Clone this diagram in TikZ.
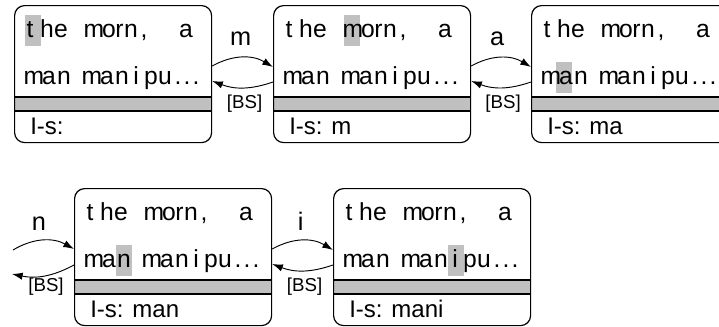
\documentclass[tikz,border=0pt]{standalone}
\usepackage{fontspec}
\setmainfont{Liberation Sans}
\usetikzlibrary{arrows.meta,calc}
\definecolor{hlgray}{RGB}{192,192,192}
\begin{document}
\begin{tikzpicture}[x=0.75pt,y=-0.75pt,
    stbox/.style={draw,line width=0.9pt,rounded corners=7.5pt,minimum width=147.75pt,
      minimum height=102.75pt,inner sep=0pt,anchor=north west},
    chr/.style={inner sep=0pt,anchor=base,font=\fontsize{18.5}{21}\selectfont},
    isl/.style={inner sep=0pt,anchor=base west,font=\fontsize{18}{21}\selectfont},
    lbl/.style={inner sep=0pt,font=\fontsize{19}{21}\selectfont},
    bs/.style={inner sep=0pt,font=\fontsize{14}{16}\selectfont},
    arr/.style={line width=0.7pt,-{Latex[length=8pt,width=5.5pt]}}]
  \clip (0,0) rectangle (719,326);
  % one box per search state: highlight, two text lines, band, I-s line
  \foreach \b/\x/\y/\ls/\hx/\hy in {b1/14/5/{}/19/10,b2/273/5/m/79/10,b3/531/5/ma/33/57,
      b4/74/188/man/50/57,b5/333/188/mani/123/57}{
    \fill[hlgray] (\x+\hx-8,\y+\hy) rectangle (\x+\hx+8,\y+\hy+31);
    \foreach \c/\cx [count=\i] in {t/16,h/33,e/47,m/80,o/95,r/105.5,n/117,{,}/130,a/172}
      \node[chr] (\b-u\i) at (\x+\cx,\y+32) {\c};
    \foreach \c/\cx [count=\i] in {m/20,a/35,n/50,m/78,a/93,n/108,i/122,p/137,u/151,./164,./173,./182}
      \node[chr] (\b-d\i) at (\x+\cx,\y+79) {\c};
    \fill[hlgray] (\x,\y+92) rectangle (\x+197,\y+106);
    \draw[line width=0.9pt] (\x,\y+92) -- ++(197,0) (\x,\y+106) -- ++(197,0);
    \node[isl] (\b-is) at (\x+16,\y+129) {I-s: \ls};
    \node[stbox] (\b) at (\x,\y) {};
  }
  % typed keys and backspace
  \draw[arr] ($(b1.north east)+(0,61)$) to[bend left=30] ($(b2.north west)+(0,62)$);
  \draw[arr] ($(b2.north west)+(0,77)$) to[bend left=20] ($(b1.north east)+(0,76)$);
  \draw[arr] ($(b2.north east)+(0,61)$) to[bend left=30] ($(b3.north west)+(0,62)$);
  \draw[arr] ($(b3.north west)+(0,77)$) to[bend left=20] ($(b2.north east)+(0,76)$);
  \draw[arr] ($(b4.north east)+(0,61)$) to[bend left=30] ($(b5.north west)+(0,62)$);
  \draw[arr] ($(b5.north west)+(0,77)$) to[bend left=20] ($(b4.north east)+(0,76)$);
  \coordinate (in4) at (13,250);
  \coordinate (out4) at (12,274);
  \draw[arr] (in4) to[bend left=30] ($(b4.north west)+(0,61)$);
  \draw[arr] ($(b4.north west)+(0,77)$) to[bend left=20] (out4);
  \node[lbl] (km) at ($(b1.north east)!0.5!(b2.north west)+(-2,34)$) {m};
  \node[lbl] (ka) at ($(b2.north east)!0.5!(b3.north west)+(-4,34)$) {a};
  \node[lbl] (ki) at ($(b4.north east)!0.5!(b5.north west)+(-2,33)$) {i};
  \node[lbl] (kn) at ($(b4.north west)+(-35,36)$) {n};
  \node[bs] (bs1) at ($(b1.north east)!0.5!(b2.north west)+(2,99)$) {[BS]};
  \node[bs] (bs2) at ($(b2.north east)!0.5!(b3.north west)+(2,99)$) {[BS]};
  \node[bs] (bs3) at ($(b4.north east)!0.5!(b5.north west)+(2,99)$) {[BS]};
  \node[bs] (bs4) at ($(b4.north west)+(-28,99)$) {[BS]};
\end{tikzpicture}
\end{document}
